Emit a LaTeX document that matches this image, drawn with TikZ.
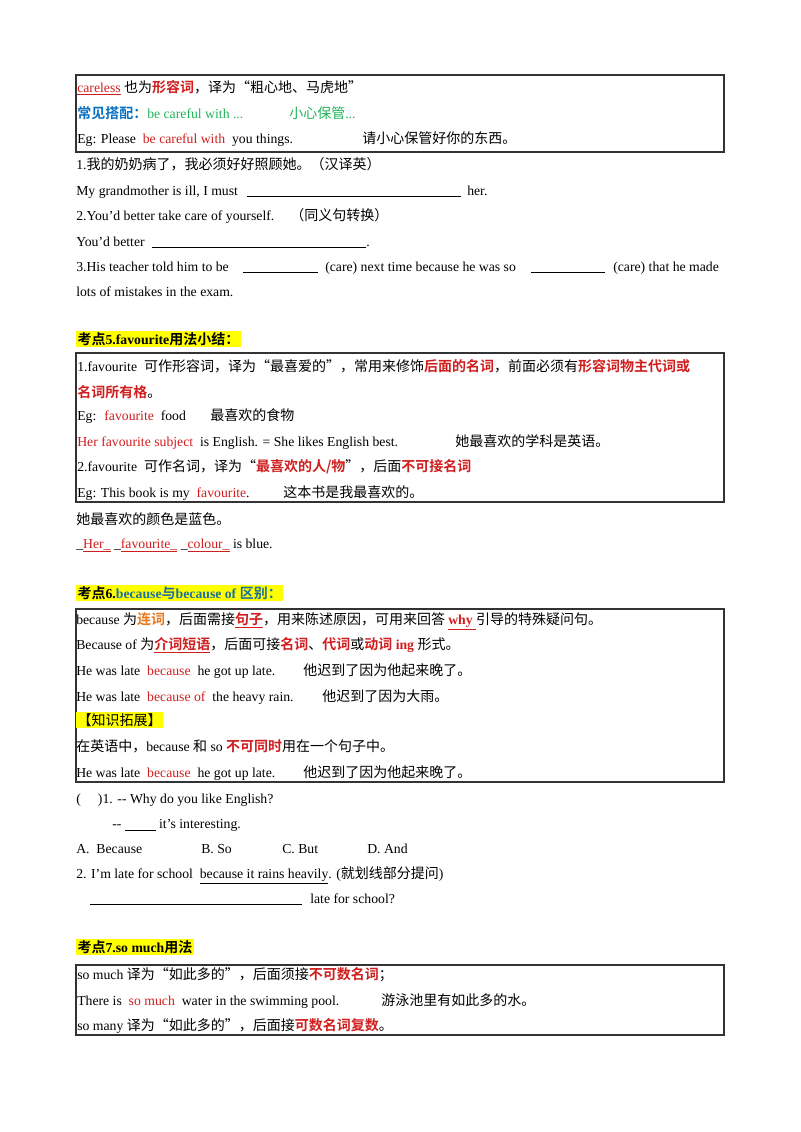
\documentclass[tikz,border=0pt]{standalone}
\usepackage{fontspec}
\setmainfont{Liberation Serif}
\newfontfamily\cjkf{Noto Sans CJK SC}[BoldFont={Noto Sans CJK SC Bold}]
\newcommand{\C}[1]{{\cjkf\fontsize{10.5}{12}\selectfont #1}}
\definecolor{rd}{HTML}{D01E1E}
\definecolor{gn}{HTML}{1FB45A}
\definecolor{bl}{HTML}{0A70C0}
\definecolor{og}{HTML}{E8781E}
\definecolor{hy}{HTML}{FFFF00}
\definecolor{tl}{HTML}{1A6FA0}
\newcommand{\R}[1]{\textcolor{rd}{#1}}
\newcommand{\HL}[1]{{\setlength{\fboxsep}{1pt}\colorbox{hy}{#1}}}
\begin{document}
\begin{tikzpicture}[x=0.75pt,y=-0.75pt,
  t/.style={anchor=base west,inner sep=0pt,font=\fontsize{10.3}{12}\selectfont},
  box/.style={draw=black!80,line width=0.8pt},
  bk/.style={line width=0.6pt}]
\useasboundingbox (0,0) rectangle (800,1132);
% box 1
\draw[box] (76,75) rectangle (724,152);
\node[t] (a1) at (77,92) {\textcolor{rd}{\underline{careless}} \C{也为\textbf{\textcolor{rd}{形容词}}，译为“粗心地、马虎地”}};
\node[t] (a2) at (77,118) {\C{\textbf{\textcolor{bl}{常见搭配：}}}\textcolor{gn}{be careful with ...}};
\node[t] (a2b) at (289,118) {\textcolor{gn}{\C{小心保管}...}};
\node[t] (a3) at (77,143) {Eg: Please \ \R{be careful with} \ you things.};
\node[t] (a3b) at (362,143) {\C{请小心保管好你的东西。}};
\node[t] (q1) at (76,169) {1.\C{我的奶奶病了，我必须好好照顾她。（汉译英）}};
\node[t] (q1a) at (76,195) {My grandmother is ill, I must};
\draw[bk] (247,196) -- (461,196);
\node[t] (q1b) at (467,195) {her.};
\node[t] (q2) at (76,220) {2.You’d better take care of yourself.};
\node[t] (q2x) at (290,220) {\C{（同义句转换）}};
\node[t] (q2a) at (76,246) {You’d better};
\draw[bk] (152,247) -- (366,247);
\node[t] (q2b) at (366,246) {.};
\node[t] (q3) at (76,271) {3.His teacher told him to be};
\draw[bk] (243,272) -- (318,272);
\node[t] (q3b) at (325,271) {(care) next time because he was so};
\draw[bk] (531,272) -- (605,272);
\node[t] (q3c) at (613,271) {(care) that he made};
\node[t] (q3d) at (76,296) {lots of mistakes in the exam.};
% section 5
\node[t] (h5) at (76,344) {\HL{\C{\textbf{考点}}\textbf{5.favourite}\C{\textbf{用法小结：}}}};
\draw[box] (76,353) rectangle (724,502);
\node[t] (b1) at (77,371) {1.favourite \ \C{可作形容词，译为“最喜爱的”，常用来修饰\textbf{\textcolor{rd}{后面的名词}}，前面必须有\textbf{\textcolor{rd}{形容词物主代词或}}}};
\node[t] (b2) at (77,397) {\C{\textbf{\textcolor{rd}{名词所有格}}。}};
\node[t] (b3) at (77,420) {Eg: \ \R{favourite} \ food};
\node[t] (b3b) at (210,420) {\C{最喜欢的食物}};
\node[t] (b4) at (77,446) {\R{Her favourite subject} \ is English. = She likes English best.};
\node[t] (b4b) at (455,446) {\C{她最喜欢的学科是英语。}};
\node[t] (b5) at (77,471) {2.favourite \ \C{可作名词，译为“\textbf{\textcolor{rd}{最喜欢的人/物}}”，后面\textbf{\textcolor{rd}{不可接名词}}}};
\node[t] (b6) at (77,497) {Eg: This book is my \ \R{favourite}.};
\node[t] (b6b) at (283,497) {\C{这本书是我最喜欢的。}};
\node[t] (c1) at (76,524) {\C{她最喜欢的颜色是蓝色。}};
\node[t] (c2) at (76,548) {\_\R{\underline{Her\_}} \_\R{\underline{favourite\_}} \_\R{\underline{colour\_}} is blue.};
% section 6
\node[t] (h6) at (76,598) {\HL{\C{\textbf{考点}}\textbf{6.\textcolor{tl}{because}}\C{\textbf{\textcolor{tl}{与}}}\textbf{\textcolor{tl}{ because of }}\C{\textbf{\textcolor{tl}{区别：}}}}};
\draw[box] (76,609) rectangle (724,782);
\node[t] (d1) at (76,624) {because \C{为\textbf{\textcolor{og}{连词}}，后面需接\textbf{\textcolor{rd}{\underline{句子}}}，用来陈述原因，可用来回答 }\textbf{\textcolor{rd}{\underline{why }}}\C{引导的特殊疑问句。}};
\node[t] (d2) at (76,649) {Because of \C{为\textbf{\textcolor{rd}{\underline{介词短语}}}，后面可接\textbf{\textcolor{rd}{名词}}、\textbf{\textcolor{rd}{代词}}或\textbf{\textcolor{rd}{动词}}} \textbf{\textcolor{rd}{ing}} \C{形式。}};
\node[t] (d3) at (76,675) {He was late \ \R{because} \ he got up late.};
\node[t] (d3b) at (303,675) {\C{他迟到了因为他起来晚了。}};
\node[t] (d4) at (76,701) {He was late \ \R{because of} \ the heavy rain.};
\node[t] (d4b) at (322,701) {\C{他迟到了因为大雨。}};
\node[t] (d5) at (76,725) {\HL{\C{【知识拓展】}}};
\node[t] (d6) at (76,751) {\C{在英语中，}because \C{和} so \C{\textbf{\textcolor{rd}{不可同时}}用在一个句子中。}};
\node[t] (d7) at (76,777) {He was late \ \R{because} \ he got up late.};
\node[t] (d7b) at (303,777) {\C{他迟到了因为他起来晚了。}};
\node[t] (e1) at (76,803) {( \quad )1. -{}- Why do you like English?};
\node[t] (e2) at (112,828) {-{}- \underline{\ \ \ \ \ \ \ \ \ } it’s interesting.};
\node[t] (e3a) at (76,853) {A. \ Because};
\node[t] (e3b) at (201,853) {B. So};
\node[t] (e3c) at (282,853) {C. But};
\node[t] (e3d) at (367,853) {D. And};
\node[t] (e4) at (76,878) {2. I’m late for school \ \underline{because it rains heavily}. (\C{就划线部分提问})};
\draw[bk] (90,904) -- (302,904);
\node[t] (e5) at (310,903) {late for school?};
% section 7
\node[t] (h7) at (76,952) {\HL{\C{\textbf{考点}}\textbf{7.so much}\C{\textbf{用法}}}};
\draw[box] (76,965) rectangle (724,1035);
\node[t] (f1) at (77,979) {so much \C{译为“如此多的”，后面须接\textbf{\textcolor{rd}{不可数名词}}；}};
\node[t] (f2) at (77,1005) {There is \ \R{so much} \ water in the swimming pool.};
\node[t] (f2b) at (381,1005) {\C{游泳池里有如此多的水。}};
\node[t] (f3) at (77,1030) {so many \C{译为“如此多的”，后面接\textbf{\textcolor{rd}{可数名词复数}}。}};
\end{tikzpicture}
\end{document}
